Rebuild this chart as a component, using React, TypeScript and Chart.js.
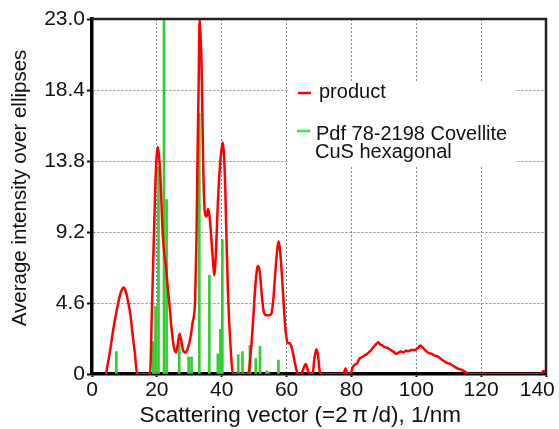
import React, { useEffect, useRef } from "react";
import { Chart, registerables } from "chart.js";

Chart.register(...registerables);

// ---- data ----
const productX = [
  4.3, 5.5, 6.5, 7.5, 8.5, 9.3, 9.8, 10.5, 11.2, 11.8, 12.5, 13.2, 13.9,
  17.9, 18.4, 18.9, 19.4, 19.9, 20.3, 20.8, 21.2, 21.7, 22.2, 22.8, 23.4, 24.0, 24.6, 25.2, 25.9, 26.5, 27.0, 27.5, 28.0, 28.8, 29.6, 30.3, 31.0, 31.8,
  32.2, 32.5, 32.9, 33.2, 33.5, 33.8, 34.3, 34.8, 35.3, 35.8, 36.3, 36.8, 37.3, 37.7, 38.2, 38.7, 39.3, 39.9, 40.3, 40.7, 41.1, 41.5, 41.9, 42.4, 42.9, 43.4,
  48.2, 49.0, 49.7, 50.3, 50.9, 51.3, 51.8, 52.4, 53.0, 53.8, 54.6, 55.3, 55.9, 56.5, 57.0, 57.5, 58.0, 58.6, 59.2, 59.8, 60.4, 61.0, 61.6, 62.3, 63.0, 63.6,
  64.5, 65.3, 65.9, 66.5, 67.0, 68.0, 68.6, 69.2, 69.7, 70.2, 70.5,
  77.5, 78.2, 78.7, 79.8, 80.3, 81.0, 81.8, 82.5, 83.3, 84.0, 84.8, 85.6, 86.3, 87.0, 87.7, 88.3, 88.9, 89.5, 90.2, 91.0, 91.8, 92.5, 93.2, 93.9, 94.6,
  95.3, 96.0, 96.8, 97.6, 98.4, 99.2, 100.0, 100.6, 101.2, 101.8, 102.5, 103.2, 104.0, 104.8, 105.6, 106.4, 107.2, 108.0, 108.8, 109.6, 110.4, 111.2,
  112.0, 112.8, 113.6, 114.4, 115.2, 116.0,
  138.5, 139.2, 140.0,
];
const productY = [
  0, 1.4, 2.8, 4.0, 5.0, 5.5, 5.6, 5.3, 4.6, 3.9, 2.6, 1.4, 0,
  0, 3.5, 7.5, 11.3, 14.0, 14.7, 13.8, 12.3, 9.5, 8.0, 7.0, 5.5, 4.2, 2.8, 1.8, 1.4, 2.0, 2.6, 2.2, 1.6, 1.4, 1.7, 2.3, 3.3, 4.8,
  8.5, 13.4, 19.0, 23.0, 21.8, 19.9, 13.4, 10.5, 10.2, 10.7, 10.1, 8.8, 7.3, 6.4, 7.8, 10.5, 13.0, 14.5, 15.0, 14.2, 12.0, 8.5, 5.5, 3.0, 1.2, 0,
  0, 1.5, 3.5, 5.5, 6.8, 7.0, 6.5, 5.0, 4.0, 3.8, 3.8, 3.9, 4.8, 6.5, 7.8, 8.6, 8.0, 6.3, 4.2, 2.6, 2.0, 2.0, 1.7, 1.0, 0.3, 0,
  0, 0.4, 0.65, 0.3, 0, 0, 1.0, 1.6, 1.2, 0.2, 0,
  0, 0.35, 0, 0, 0.4, 0.6, 0.7, 1.0, 1.1, 1.2, 1.3, 1.45, 1.6, 1.8, 1.95, 2.05, 1.9, 1.85, 1.75, 1.7, 1.6, 1.5, 1.4, 1.3, 1.4,
  1.45, 1.4, 1.5, 1.48, 1.55, 1.55, 1.6, 1.7, 1.85, 1.75, 1.6, 1.45, 1.35, 1.3, 1.2, 1.15, 1.05, 0.9, 0.8, 0.7, 0.65, 0.55,
  0.45, 0.35, 0.3, 0.22, 0.12, 0,
  0, 0.2, 0.1,
];

const pdfX = [7.5, 18.9, 19.6, 20.5, 22.2, 23.0, 26.9, 29.8, 30.7, 33.1, 36.2, 38.8, 39.6, 40.2, 45.1, 46.4, 48.7, 50.5, 51.8, 53.8, 54.4, 57.5];
const pdfY = [1.45, 2.1, 4.4, 13.4, 23.0, 11.3, 2.0, 1.1, 1.1, 16.9, 6.4, 1.3, 2.9, 8.7, 1.25, 1.45, 1.85, 1.0, 1.8, 0.2, 0.15, 0.9];

const xTicks = [0, 20, 40, 60, 80, 100, 120, 140];
const yTicks = [0, 4.6, 9.2, 13.8, 18.4, 23.0];

const seriesLabels = ["product", "Pdf 78-2198 Covellite", "CuS hexagonal"];
const xTitle = "Scattering vector (=2\u2009π\u2009/d), 1/nm";
const yTitle = "Average intensity over ellipses";

const FONT = "'Liberation Sans', Arial, sans-serif";
const RED = "#ff0000";
const GREEN = "#33cc33";
const GREEN_LEG = "#33e070";

const framePlugin = {
  id: "frameAndLegend",
  afterDraw(chart: any) {
    const { ctx, chartArea: a } = chart;
    ctx.save();
    ctx.strokeStyle = "#222";
    ctx.lineWidth = 2.5;
    ctx.beginPath();
    ctx.moveTo(a.left, a.top);
    ctx.lineTo(a.right, a.top);
    ctx.lineTo(a.right, a.bottom);
    ctx.stroke();

    ctx.fillStyle = "#ffffff";
    ctx.fillRect(a.left + 197, a.top + 63, 226, 84);

    ctx.lineWidth = 2.5;
    ctx.strokeStyle = RED;
    ctx.beginPath();
    ctx.moveTo(a.left + 206, a.top + 74);
    ctx.lineTo(a.left + 219, a.top + 74);
    ctx.stroke();
    ctx.strokeStyle = GREEN_LEG;
    ctx.beginPath();
    ctx.moveTo(a.left + 205, a.top + 112);
    ctx.lineTo(a.left + 218, a.top + 112);
    ctx.stroke();

    ctx.fillStyle = "#111";
    ctx.font = `20px ${FONT}`;
    ctx.textAlign = "left";
    ctx.textBaseline = "alphabetic";
    ctx.fillText(seriesLabels[0], a.left + 227, a.top + 79);
    ctx.fillText(seriesLabels[1], a.left + 224, a.top + 120.5);
    ctx.fillText(seriesLabels[2], a.left + 223, a.top + 139);
    ctx.restore();
  },
};

export default function App() {
  const ref = useRef<HTMLCanvasElement | null>(null);

  useEffect(() => {
    if (!ref.current) return;
    const tickFont = { family: FONT, size: 21 };
    const chart = new Chart(ref.current, {
      type: "line",
      data: {
        datasets: [
          {
            type: "line",
            label: seriesLabels[0],
            data: productX.map((x, i) => ({ x, y: productY[i] })),
            borderColor: RED,
            borderWidth: 2.5,
            pointRadius: 0,
            cubicInterpolationMode: "monotone",
            fill: false,
          },
          {
            type: "bar",
            label: seriesLabels[1],
            data: pdfX.map((x, i) => ({ x, y: pdfY[i] })),
            backgroundColor: GREEN,
            borderWidth: 0,
            barThickness: 2,
          } as any,
        ],
      },
      options: {
        animation: false,
        responsive: false,
        layout: { padding: { left: 0, right: 13, top: 19, bottom: 0 } },
        plugins: { legend: { display: false }, tooltip: { enabled: false } },
        scales: {
          x: {
            type: "linear",
            min: 0,
            max: 140,
            offset: false,
            z: 1,
            afterBuildTicks: (s: any) => {
              s.ticks = xTicks.map((v) => ({ value: v }));
            },
            afterFit: (s: any) => {
              s.height = 55;
              s.paddingRight = 0;
              s.paddingLeft = 0;
            },
            ticks: {
              autoSkip: false,
              maxRotation: 0,
              padding: 1,
              color: "#111",
              font: tickFont,
              callback: (v: any) => (v === 140 ? "140   " : String(v)),
            },
            grid: {
              offset: false,
              color: "#8a8a8a",
              lineWidth: 1,
              drawTicks: true,
              tickLength: 3,
              tickColor: "#111",
              tickWidth: 2,
            },
            border: { display: true, color: "#000", width: 3.5, dash: [2, 2] },
            title: {
              display: true,
              text: xTitle + "      ",
              color: "#111",
              font: { family: FONT, size: 22.5 },
              padding: { top: 0, bottom: 0 },
            },
          },
          y: {
            type: "linear",
            min: 0,
            max: 23,
            z: 1,
            afterBuildTicks: (s: any) => {
              s.ticks = yTicks.map((v) => ({ value: v }));
            },
            afterFit: (s: any) => {
              s.width = 92;
            },
            ticks: {
              padding: 2,
              color: "#111",
              font: tickFont,
              callback: (v: any) => (v === 0 ? "0" : Number(v).toFixed(1)),
            },
            grid: {
              color: "#8a8a8a",
              lineWidth: 1,
              drawTicks: true,
              tickLength: 5,
              tickColor: "#111",
              tickWidth: 2,
            },
            border: { display: true, color: "#000", width: 3.5, dash: [2, 2] },
            title: {
              display: true,
              text: "   " + yTitle,
              color: "#111",
              font: { family: FONT, size: 20.5 },
              padding: { top: 8, bottom: 0 },
            },
          },
        },
      },
      plugins: [framePlugin],
    } as any);
    return () => chart.destroy();
  }, []);

  return (
    <div style={{ position: "absolute", left: 0, top: 0, width: 559, height: 429, background: "#fff" }}>
      <canvas ref={ref} width={559} height={429} style={{ display: "block" }} />
    </div>
  );
}
